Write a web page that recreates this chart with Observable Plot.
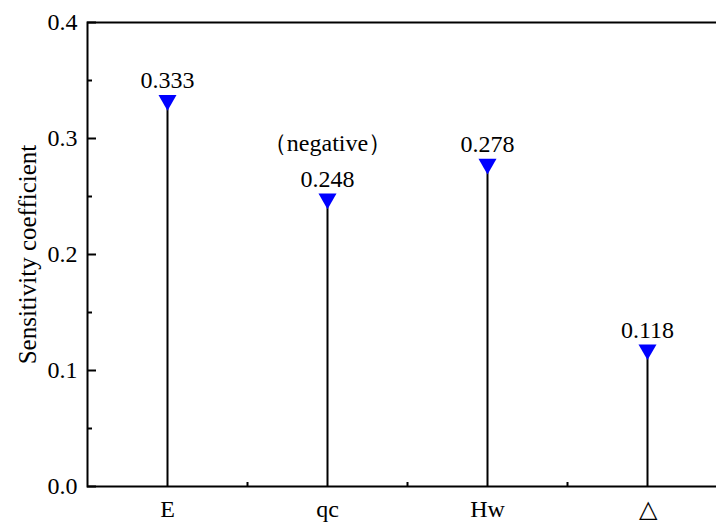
<!DOCTYPE html>
<html>
<head>
<meta charset="utf-8">
<script src="https://cdn.jsdelivr.net/npm/d3@7"></script>
<script src="https://cdn.jsdelivr.net/npm/@observablehq/plot@0.6"></script>
<style>
  html, body { margin: 0; padding: 0; background: #fff; overflow: hidden; }
</style>
</head>
<body>
<div id="chart"></div>
<script>
const categories = ["E", "qc", "Hw", "△"];
const values = [0.333, 0.248, 0.278, 0.118];
const valueLabels = ["0.333", "0.248", "0.278", "0.118"];
const notes = ["", "（negative）", "", ""];
const yTicks = [0, 0.1, 0.2, 0.3, 0.4];
const yMinorTicks = [0.05, 0.15, 0.25, 0.35];
const yLabel = "Sensitivity coefficient";

const data = categories.map((c, i) => ({pos: i + 1, cat: c, value: values[i], label: valueLabels[i], note: notes[i]}));
const xLabelTicks = data.map(d => d.pos);
const xBoundaryTicks = data.map(d => d.pos + 0.5);
const serif = "Liberation Serif";

const chart = Plot.plot({
  width: 716,
  height: 522,
  marginLeft: 87,
  marginRight: -11,
  marginTop: 22,
  marginBottom: 36,
  style: {fontFamily: "'Liberation Serif', 'Noto Sans CJK SC', serif", fontSize: "24px", overflow: "hidden", background: "#fff", color: "#000"},
  x: {type: "linear", domain: [0.5, categories.length + 0.5]},
  y: {domain: [0, 0.4]},
  marks: [
    Plot.frame({stroke: "#000", strokeWidth: 2}),
    Plot.axisY({ticks: yTicks, tickSize: -9, tickFormat: () => "", strokeWidth: 2, label: null}),
    Plot.axisY({ticks: yMinorTicks, tickSize: -5, tickFormat: () => "", strokeWidth: 2, label: null}),
    Plot.axisY({ticks: yTicks, tickSize: 0, tickPadding: 10, tickFormat: d3.format(".1f"), label: null, fontFamily: serif}),
    Plot.axisX({ticks: xBoundaryTicks, tickSize: -4, tickFormat: () => "", strokeWidth: 2, label: null}),
    Plot.axisX({ticks: xLabelTicks, tickSize: 0, tickPadding: 13, tickFormat: d => categories[d - 1], label: null, fontFamily: serif}),
    Plot.text([yLabel], {frameAnchor: "left", text: d => d, rotate: -90, dx: -52, lineAnchor: "bottom", textAnchor: "middle", fontFamily: serif, fontSize: 25}),
    Plot.ruleX(data, {x: "pos", y1: 0, y2: "value", stroke: "#000", strokeWidth: 2}),
    Plot.dot(data, {x: "pos", y: "value", symbol: "triangle", rotate: 180, r: 6.7, fill: "#0000ff", stroke: "none"}),
    Plot.text(data, {x: "pos", y: "value", text: "label", lineAnchor: "bottom", dy: -12, fontFamily: serif, fontSize: 24}),
    Plot.text(data.filter(d => d.note), {x: "pos", y: "value", text: "note", lineAnchor: "bottom", dy: -48, fontFamily: serif, fontSize: 24})
  ]
});
document.getElementById("chart").appendChild(chart);
</script>
</body>
</html>
